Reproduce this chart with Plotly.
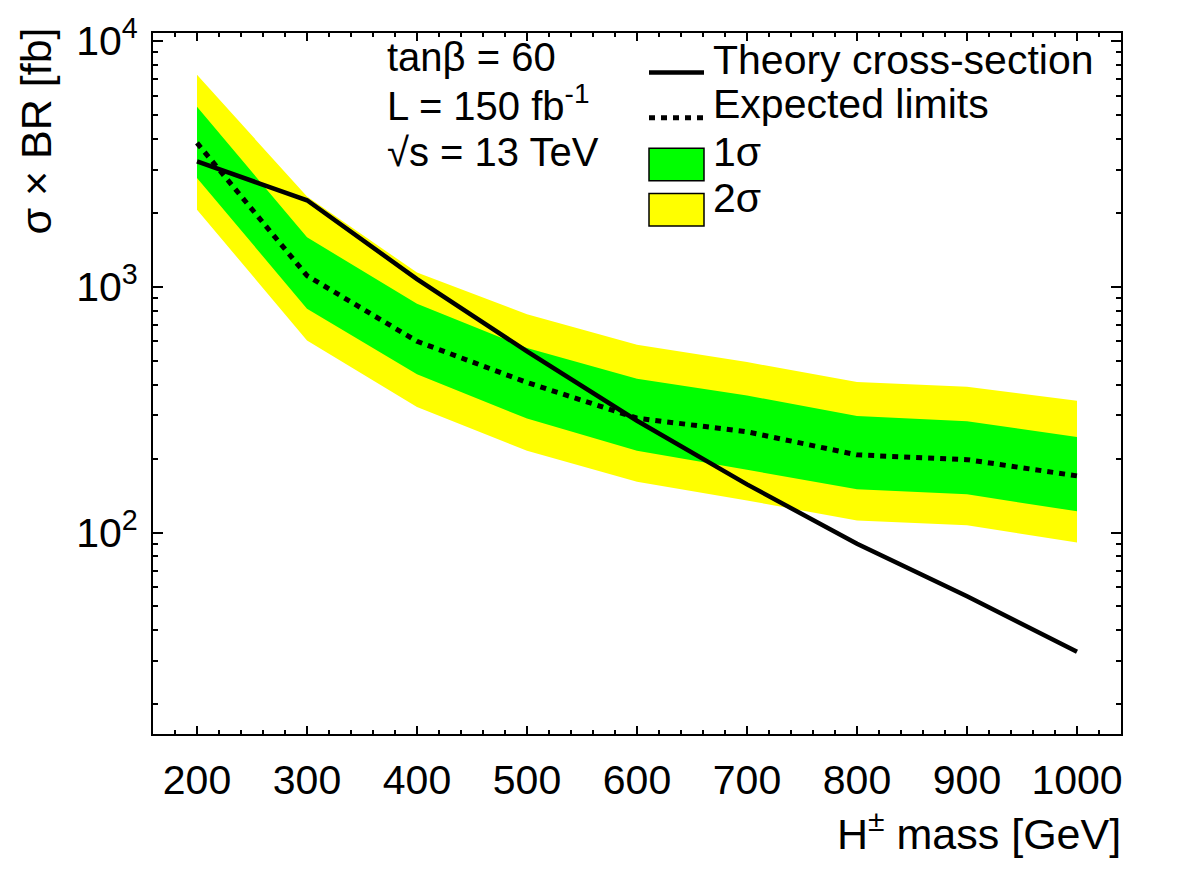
import plotly.graph_objects as go

# ---- data ----
mass = [200, 300, 400, 500, 600, 700, 800, 900, 1000]
theory = [3240, 2250, 1075, 546, 285, 157, 90, 55, 32.7]
expected = [3850, 1110, 600, 408, 292, 257, 207, 198, 170]
one_sigma_lo = [2770, 815, 441, 291, 215, 180, 150, 143, 122]
one_sigma_hi = [5400, 1590, 854, 563, 423, 361, 298, 284, 245]
two_sigma_lo = [2060, 605, 324, 215, 161, 135, 112, 107, 91]
two_sigma_hi = [7290, 2330, 1143, 774, 581, 494, 410, 392, 344]

x_ticks = [200, 300, 400, 500, 600, 700, 800, 900, 1000]
y_ticks = [100, 1000, 10000]
y_ticktext = ["10<sup>2</sup>", "10<sup>3</sup>", "10<sup>4</sup>"]
y_minor = [m * d for d in (10, 100, 1000) for m in range(2, 10)]

W, H = 1182, 886
L_PX, R_PX, T_PX, B_PX = 153, 1121, 22, 734
FONT = "Liberation Sans, Arial, Helvetica, sans-serif"


def px(xp):
    return (xp - L_PX) / (R_PX - L_PX)


def py(yp):
    return (B_PX - yp) / (B_PX - T_PX)


fig = go.Figure()

fig.add_trace(go.Scatter(
    x=mass + mass[::-1], y=two_sigma_hi + two_sigma_lo[::-1],
    fill="toself", fillcolor="#ffff00", line=dict(width=0), mode="lines",
    name="2σ", showlegend=False, hoverinfo="skip"))
fig.add_trace(go.Scatter(
    x=mass + mass[::-1], y=one_sigma_hi + one_sigma_lo[::-1],
    fill="toself", fillcolor="#00ff00", line=dict(width=0), mode="lines",
    name="1σ", showlegend=False, hoverinfo="skip"))
fig.add_trace(go.Scatter(
    x=mass, y=expected, mode="lines",
    line=dict(color="black", width=5, dash="6px,6px"),
    name="Expected limits", showlegend=False))
fig.add_trace(go.Scatter(
    x=mass, y=theory, mode="lines",
    line=dict(color="black", width=4.5),
    name="Theory cross-section", showlegend=False))

axis_common = dict(
    showline=True, linecolor="black", linewidth=2, mirror="ticks",
    ticks="inside", tickcolor="black", tickwidth=2,
    showgrid=False, zeroline=False,
    tickfont=dict(family=FONT, size=41, color="black"),
)

fig.update_xaxes(
    range=[160, 1040], tickmode="array", tickvals=x_ticks, ticklen=8,
    minor=dict(dtick=20, ticks="inside", ticklen=4, tickcolor="black",
               tickwidth=1.5, showgrid=False),
    ticklabelstandoff=9,
    **axis_common)
fig.update_yaxes(
    type="log", range=[1.18, 4.033], tickmode="array", tickvals=y_ticks,
    ticktext=y_ticktext, ticklen=10,
    minor=dict(tickmode="array", tickvals=y_minor, ticks="inside", ticklen=5,
               tickcolor="black", tickwidth=1.5, showgrid=False),
    ticklabelstandoff=5,
    **axis_common)

info_font = dict(family=FONT, size=40, color="black")
leg_font = dict(family=FONT, size=41, color="black")
annotations = []
# info text
for label, yc in [("tanβ = 60", 46), ("L = 150 fb<sup>-1</sup>", 93), ("√s = 13 TeV", 143)]:
    annotations.append(dict(x=px(385), y=py(yc), xref="paper", yref="paper",
                            text=label, showarrow=False, xanchor="left",
                            yanchor="middle", font=info_font))
# legend text
for label, yc in [("Theory cross-section", 49), ("Expected limits", 94),
                  ("1σ", 143), ("2σ", 190)]:
    annotations.append(dict(x=px(711), y=py(yc), xref="paper", yref="paper",
                            text=label, showarrow=False, xanchor="left",
                            yanchor="middle", font=leg_font))
# axis titles
annotations.append(dict(x=px(1123), y=py(833), xref="paper", yref="paper",
                        text="H<sup>±</sup> mass [GeV]", showarrow=False,
                        xanchor="right", yanchor="middle",
                        font=dict(family=FONT, size=43, color="black")))
annotations.append(dict(x=px(36), y=py(122), xref="paper", yref="paper",
                        text="σ × BR [fb]", showarrow=False, textangle=-90,
                        xanchor="center", yanchor="middle",
                        font=dict(family=FONT, size=43, color="black")))

shapes = [
    dict(type="line", xref="paper", yref="paper", x0=px(649), x1=px(704),
         y0=py(62), y1=py(62), line=dict(color="black", width=4.5)),
    dict(type="line", xref="paper", yref="paper", x0=px(649), x1=px(704),
         y0=py(108), y1=py(108), line=dict(color="black", width=5, dash="6px,6px")),
    dict(type="rect", xref="paper", yref="paper", x0=px(649), x1=px(704),
         y0=py(172), y1=py(139), fillcolor="#00ff00", line=dict(color="black", width=1.5)),
    dict(type="rect", xref="paper", yref="paper", x0=px(649), x1=px(704),
         y0=py(218), y1=py(185), fillcolor="#ffff00", line=dict(color="black", width=1.5)),
]

fig.update_layout(
    width=W, height=H,
    margin=dict(l=L_PX, r=W - R_PX, t=T_PX, b=H - B_PX),
    paper_bgcolor="white", plot_bgcolor="white",
    showlegend=False,
    annotations=annotations, shapes=shapes,
    font=dict(family=FONT, color="black"),
)

fig.write_html("out.html")
